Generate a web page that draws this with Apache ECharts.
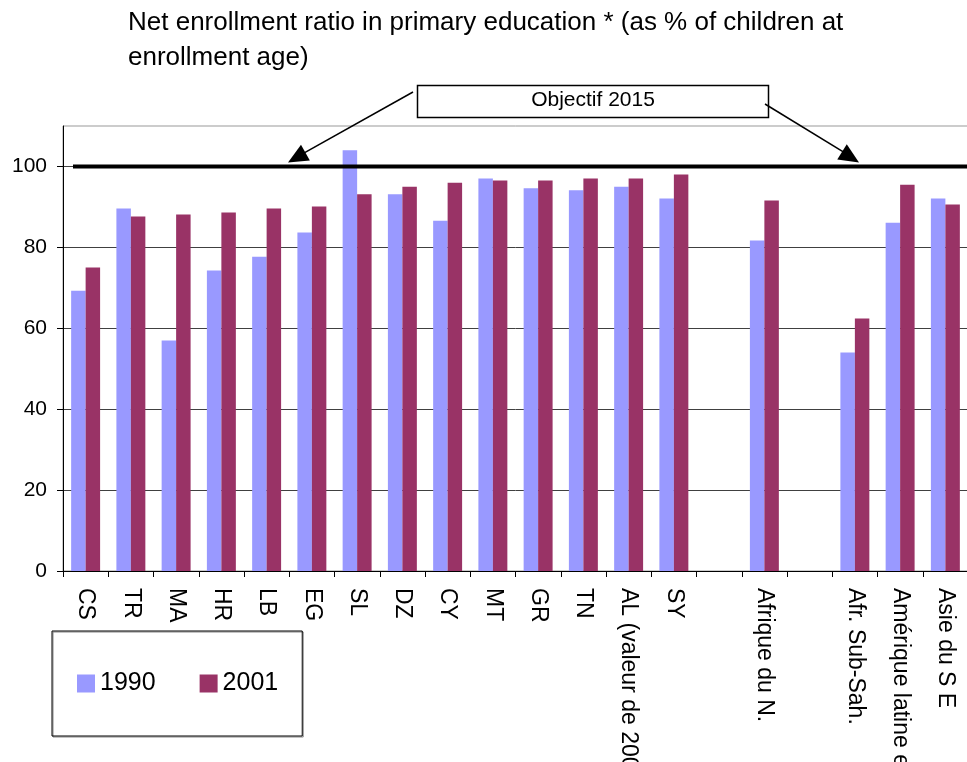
<!DOCTYPE html>
<html>
<head>
<meta charset="utf-8">
<script src="https://cdn.jsdelivr.net/npm/echarts@6/dist/echarts.min.js"></script>
<style>html,body{margin:0;padding:0;background:#fff;}#c{width:967px;height:762px;}</style>
</head>
<body>
<div id="c"></div>
<script>
var categories = ['CS','TR','MA','HR','LB','EG','SL','DZ','CY','MT','GR','TN','AL (valeur de 2000)','SY','','Afrique du N.','','Afr. Sub-Sah.','Amérique latine et Caraïbes','Asie du S E'];
var values1990 = [69.3,89.6,57,74.3,77.7,83.7,104,93.1,86.6,97,94.6,94.1,95,92.1,null,81.7,null,54,86.1,92.1];
var values2001 = [75,87.6,88.1,88.6,89.6,90.1,93.1,95,96,96.5,96.5,97,97,98,null,91.6,null,62.4,95.5,90.6];
var seriesNames = ['1990','2001'];
var targetValue = 100;
var yTicks = {min:0, max:110, interval:20};

var FONT = 'Liberation Sans, Arial, sans-serif';
var chart = echarts.init(document.getElementById('c'), null, {renderer:'canvas'});
chart.setOption({
  animation:false,
  backgroundColor:'#fff',
  title:{
    text:'Net enrollment ratio in primary education * (as % of children at\nenrollment age)',
    left:128, top:5, padding:0,
    textStyle:{fontFamily:FONT, fontSize:26, fontWeight:'normal', color:'#000', lineHeight:35}
  },
  legend:{
    data:seriesNames,
    left:52, top:631,
    orient:'horizontal',
    icon:'rect', itemWidth:18, itemHeight:18, itemGap:44,
    padding:[40,24,40,25],
    borderColor:'#000', borderWidth:1,
    shadowColor:'#888', shadowOffsetX:1, shadowOffsetY:1, shadowBlur:0,
    textStyle:{fontFamily:FONT, fontSize:25, color:'#000', padding:[0,0,0,0]}
  },
  grid:{left:63, top:126, width:905, bottom:191, containLabel:false, outerBoundsMode:'none', show:true, borderColor:'#999', borderWidth:1, backgroundColor:'transparent'},
  xAxis:{
    type:'category', data:categories,
    axisLine:{lineStyle:{color:'#000', width:1}},
    axisTick:{show:true, length:6, lineStyle:{color:'#000'}},
    axisLabel:{rotate:-90, interval:0, margin:17, fontFamily:FONT, fontSize:23, color:'#000'},
    splitLine:{show:false}
  },
  yAxis:{
    type:'value', min:yTicks.min, max:yTicks.max, interval:yTicks.interval,
    axisLine:{show:true, lineStyle:{color:'#000', width:1}},
    axisTick:{show:true, length:6, lineStyle:{color:'#000'}},
    axisLabel:{margin:16, fontFamily:FONT, fontSize:21, color:'#000', showMaxLabel:false},
    splitLine:{show:true, showMaxLine:false, lineStyle:{color:'#404040', width:1}}
  },
  series:[
    {name:seriesNames[0], type:'bar', data:values1990, barGap:'0%', barCategoryGap:'36%', itemStyle:{color:'#9999FF'}},
    {name:seriesNames[1], type:'bar', data:values2001, barGap:'0%', barCategoryGap:'36%', itemStyle:{color:'#993366'}}
  ]
});

var yT = chart.convertToPixel({yAxisIndex:0}, targetValue);
function arrowHead(x0,y0,x1,y1,len,half){
  var dx=x1-x0, dy=y1-y0, L=Math.sqrt(dx*dx+dy*dy), ux=dx/L, uy=dy/L;
  var bx=x1-ux*len, by=y1-uy*len;
  return [[x1,y1],[bx-uy*half,by+ux*half],[bx+uy*half,by-ux*half]];
}
var lStart=[413,92], lEnd=[288,yT-4];
var rStart=[765,104], rEnd=[859,yT-4];
chart.setOption({
  graphic:[
    {type:'line', shape:{x1:73, y1:yT, x2:967, y2:yT}, style:{stroke:'#000', lineWidth:4}, z:100},
    {type:'rect', shape:{x:417.5, y:85.5, width:351, height:32}, style:{fill:'#fff', stroke:'#000', lineWidth:1.5}, z:100},
    {type:'text', x:593, y:100, style:{text:'Objectif 2015', fontFamily:FONT, fontSize:21, fill:'#000', align:'center', verticalAlign:'middle'}, z:101},
    {type:'line', shape:{x1:lStart[0], y1:lStart[1], x2:lEnd[0]+10, y2:lEnd[1]-6}, style:{stroke:'#000', lineWidth:1.5}, z:100},
    {type:'polygon', shape:{points:arrowHead(lStart[0],lStart[1],lEnd[0],lEnd[1],20,9)}, style:{fill:'#000'}, z:100},
    {type:'line', shape:{x1:rStart[0], y1:rStart[1], x2:rEnd[0]-10, y2:rEnd[1]-7}, style:{stroke:'#000', lineWidth:1.5}, z:100},
    {type:'polygon', shape:{points:arrowHead(rStart[0],rStart[1],rEnd[0],rEnd[1],20,9)}, style:{fill:'#000'}, z:100}
  ]
});
</script>
</body>
</html>
